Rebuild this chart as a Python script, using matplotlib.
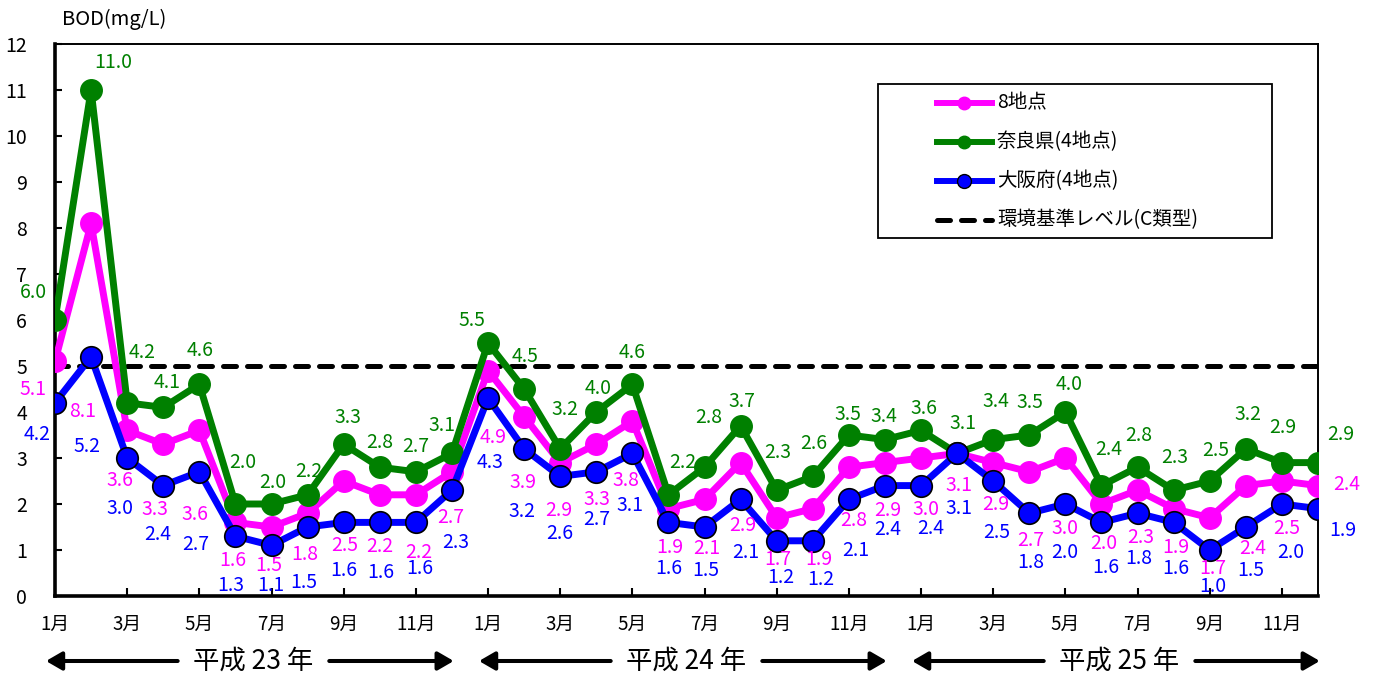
import matplotlib
matplotlib.use("Agg")
import matplotlib.pyplot as plt
from matplotlib.lines import Line2D
from matplotlib.patches import Rectangle
import numpy as np

plt.rcParams['font.family'] = ['Noto Sans CJK JP', 'DejaVu Sans']

# ---------------- data ----------------
month_labels = ['1月', '3月', '5月', '7月', '9月', '11月'] * 3
year_labels = ['平成 23 年', '平成 24 年', '平成 25 年']

all8 = [5.1, 8.1, 3.6, 3.3, 3.6, 1.6, 1.5, 1.8, 2.5, 2.2, 2.2, 2.7,
        4.9, 3.9, 2.9, 3.3, 3.8, 1.9, 2.1, 2.9, 1.7, 1.9, 2.8, 2.9,
        3.0, 3.1, 2.9, 2.7, 3.0, 2.0, 2.3, 1.9, 1.7, 2.4, 2.5, 2.4]
nara = [6.0, 11.0, 4.2, 4.1, 4.6, 2.0, 2.0, 2.2, 3.3, 2.8, 2.7, 3.1,
        5.5, 4.5, 3.2, 4.0, 4.6, 2.2, 2.8, 3.7, 2.3, 2.6, 3.5, 3.4,
        3.6, 3.1, 3.4, 3.5, 4.0, 2.4, 2.8, 2.3, 2.5, 3.2, 2.9, 2.9]
osaka = [4.2, 5.2, 3.0, 2.4, 2.7, 1.3, 1.1, 1.5, 1.6, 1.6, 1.6, 2.3,
         4.3, 3.2, 2.6, 2.7, 3.1, 1.6, 1.5, 2.1, 1.2, 1.2, 2.1, 2.4,
         2.4, 3.1, 2.5, 1.8, 2.0, 1.6, 1.8, 1.6, 1.0, 1.5, 2.0, 1.9]
standard = 5.0

series_names = ['8地点', '奈良県(4地点)', '大阪府(4地点)', '環境基準レベル(C類型)']

# label offsets (pixels)
nara_dx = [-22, 22, 15, 4, 1, 7, 1, 1, 4, 0, 0, -10, -16, 1, 5, 2, 0, 14, 4, 1, 1, 1, -1, -1,
           3, 6, 3, 1, 4, 7, 1, 1, 6, 2, 1, 23]
nara_dy = [27, 27, 50, 25, 34, 42, 22, 23, 27, 25, 25, 28, 23, 33, 39, 24, 32, 32, 50, 24, 38, 33, 20, 23,
           22, 30, 38, 33, 27, 36, 32, 33, 31, 34, 35, 28]
osaka_dx = [-18, -4, -7, -6, -4, -5, -1, -4, 0, 1, 4, 4, 2, -2, 0, 0, -2, 0, 1, 5, 4, 8, 7, 3,
            10, 2, 3, 1, -1, 4, 1, 2, 3, 5, 9, 25]
osaka_dy = [32, 90, 50, 49, 73, 49, 40, 55, 48, 50, 46, 52, 64, 63, 57, 48, 52, 46, 43, 53, 37, 39, 51, 44,
            43, 55, 51, 49, 49, 45, 45, 46, 37, 43, 48, 22]
all8_dx = [-22, -8, -7, -8, -4, -3, -3, -3, 1, 0, 3, -1, 5, -1, -1, 1, -6, 1, 2, 2, 1, 6, 5, 3,
           5, 2, 3, 1, 0, 2, 3, 2, 3, 7, 5, 29]
all8_dy = [-13, 55, 22, 24, 43, 24, 20, 28, 23, 24, 30, 27, 39, 34, 34, 28, 27, 25, 21, 26, 19, 19, 21, 25,
           24, 32, 24, 27, 24, 21, 24, 25, 18, 21, 25, -24]

# ---------------- figure ----------------
W, H = 1378, 675
fig = plt.figure(figsize=(W / 100, H / 100), dpi=100)
ax = fig.add_axes([55 / W, 1 - 596 / H, (1318 - 55) / W, (596 - 44) / H])

x = np.arange(len(all8))
MAG, GRN, BLU = '#FF00FF', '#008000', '#0000FF'

ax.axhline(standard, color='black', lw=3.6, dashes=(2.6, 2.2), dash_capstyle='round', zorder=2)
ax.plot(x, all8, color=MAG, lw=5, marker='o', ms=15.5, mec=MAG, zorder=3)
ax.plot(x, nara, color=GRN, lw=5, marker='o', ms=15.5, mec=GRN, zorder=4)
ax.plot(x, osaka, color=BLU, lw=5, marker='o', ms=15.5, mec='black', mew=1.2, zorder=5)

ax.set_xlim(0, 35)
ax.set_ylim(0, 12)
ax.set_yticks(range(0, 13))
ax.set_xticks(x[::2])
ax.set_xticklabels(month_labels)
ax.tick_params(axis='y', direction='in', length=5, width=1.5, labelsize=14, pad=20)
ax.tick_params(axis='x', direction='in', length=6, width=1.5, labelsize=13.5, pad=13)
for s in ['left', 'bottom']:
    ax.spines[s].set_linewidth(2.6)
for s in ['top', 'right']:
    ax.spines[s].set_linewidth(1.4)

fs = 14
for i in x:
    ax.annotate(f'{nara[i]:.1f}', (i, nara[i]), xytext=(nara_dx[i], nara_dy[i]),
                textcoords='offset pixels', ha='center', va='center', color=GRN,
                fontsize=fs, zorder=6, annotation_clip=False)
    ax.annotate(f'{osaka[i]:.1f}', (i, osaka[i]), xytext=(osaka_dx[i], -osaka_dy[i]),
                textcoords='offset pixels', ha='center', va='center', color=BLU,
                fontsize=fs, zorder=6, annotation_clip=False)
    ax.annotate(f'{all8[i]:.1f}', (i, osaka[i]), xytext=(all8_dx[i], -all8_dy[i]),
                textcoords='offset pixels', ha='center', va='center', color=MAG,
                fontsize=fs, zorder=6, annotation_clip=False)

# axis title
fig.text(62 / W, 1 - 19 / H, 'BOD(mg/L)', ha='left', va='center', fontsize=14.5)

# year labels with arrows
tr = ax.get_xaxis_transform()
ya = (596 - 661) / (596 - 44)
for k, yl in enumerate(year_labels):
    c = 12 * k + 5.5
    ax.text(c, ya, yl, transform=tr, ha='center', va='center', fontsize=19, clip_on=False)
    for tail, tip in [(12 * k + 3.4, 12 * k - 0.25), (12 * k + 7.6, 12 * k + 11.05)]:
        ax.annotate('', xy=(tip, ya), xytext=(tail, ya), xycoords=tr, textcoords=tr,
                    arrowprops=dict(arrowstyle='-|>,head_length=0.95,head_width=0.55',
                                    mutation_scale=10, lw=2.9, color='black',
                                    shrinkA=0, shrinkB=0), annotation_clip=False)

# legend (manual)
def fx(px):
    return px / W

def fy(py):
    return 1 - py / H

fig.add_artist(Rectangle((fx(878), fy(238)), fx(1272) - fx(878), fy(84) - fy(238),
                         transform=fig.transFigure, fill=False, ec='black', lw=1.3))
leg_y = [103, 142, 181, 220]
styles = [dict(color=MAG, lw=4.3, marker='o', ms=9, mec=MAG),
          dict(color=GRN, lw=4.3, marker='o', ms=9, mec=GRN),
          dict(color=BLU, lw=4.3, marker='o', ms=10, mec='black', mew=1.0),
          dict(color='black', lw=3.6, dashes=(2.6, 2.2), dash_capstyle='round')]
for yy, name, st in zip(leg_y, series_names, styles):
    if 'marker' in st:
        st2 = dict(st)
        m = st2.pop('marker'); ms = st2.pop('ms'); mec = st2.pop('mec'); mew = st2.pop('mew', 1.0)
        fig.add_artist(Line2D([fx(937), fx(992)], [fy(yy), fy(yy)], transform=fig.transFigure, **st2))
        fig.add_artist(Line2D([fx(964)], [fy(yy)], transform=fig.transFigure, marker=m, ms=ms,
                              mfc=st['color'], mec=mec, mew=mew, ls='none'))
    else:
        fig.add_artist(Line2D([fx(937), fx(992)], [fy(yy), fy(yy)], transform=fig.transFigure, **st))
    fig.text(fx(997), fy(yy), name, ha='left', va='center', fontsize=14)

fig.savefig('out.png', dpi=100)
